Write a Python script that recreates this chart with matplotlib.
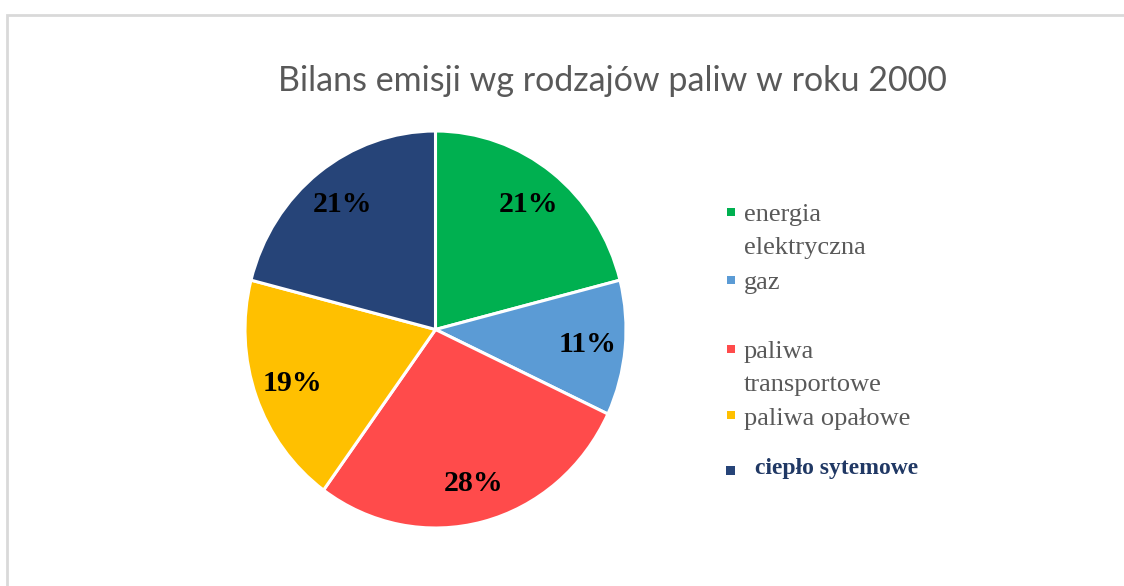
import numpy as np
import matplotlib
matplotlib.use("Agg")
import matplotlib.pyplot as plt
from matplotlib.patches import Rectangle

# data
categories = ["energia\nelektryczna", "gaz", "paliwa\ntransportowe",
              "paliwa opałowe", "ciepło sytemowe"]
shares = [21, 11, 28, 19, 21]
colors = ["#00B050", "#5B9BD5", "#FF4B4B", "#FFC000", "#264478"]
title = "Bilans emisji wg rodzajów paliw w roku 2000"

W, H = 1124, 586
fig = plt.figure(figsize=(W / 100, H / 100), dpi=100)
fig.patch.set_facecolor("white")

# light gray frame (extends past right / bottom edge)
fig.patches.append(Rectangle((7 / W, -0.2), 1.2, 1.2 - 15 / H,
                             transform=fig.transFigure, fill=False,
                             edgecolor="#D9D9D9", linewidth=2))

# pie area (slightly taller than wide, as in the reference)
ax = fig.add_axes([245 / W, 58 / H, 381 / W, 397 / H])
wedges, texts, autotexts = ax.pie(
    shares, colors=colors, startangle=90, counterclock=False,
    autopct=lambda p: f"{p:.0f}%", pctdistance=0.8, radius=1,
    wedgeprops=dict(edgecolor="white", linewidth=2.2),
    textprops=dict(family="Liberation Serif", fontweight="bold",
                   fontsize=21.5, color="black"))
ax.set_aspect("auto")
ax.set_xlim(-1.0, 1.0)
ax.set_ylim(-1.0, 1.0)
ax.axis("off")

fig.text(612 / W, 1 - 91 / H, title, ha="center", va="baseline",
         fontsize=24.5, color="#595959", family="Lato", fontweight="normal")

# manual legend (irregular spacing like the original)
marker_y = [212, 280, 349, 415, 470]
text_y = [221, 289, 358, 425, 474]
for i, (lab, c) in enumerate(zip(categories, colors)):
    last = i == len(categories) - 1
    s = 9 if last else 8
    fig.patches.append(Rectangle(((730.5 - s / 2) / W, 1 - (marker_y[i] + s / 2) / H),
                                 s / W, s / H, transform=fig.transFigure,
                                 facecolor=c, edgecolor="none"))
    if last:
        fig.text(755 / W, 1 - text_y[i] / H, lab, ha="left", va="baseline",
                 fontsize=17, color="#203864", family="Liberation Serif",
                 fontweight="bold")
    else:
        lines = lab.split("\n")
        for j, ln in enumerate(lines):
            fig.text(744 / W, 1 - (text_y[i] + 33 * j) / H, ln, ha="left",
                     va="baseline", fontsize=19, color="#595959",
                     family="Liberation Serif")

fig.savefig("out.png", dpi=100, facecolor="white")
